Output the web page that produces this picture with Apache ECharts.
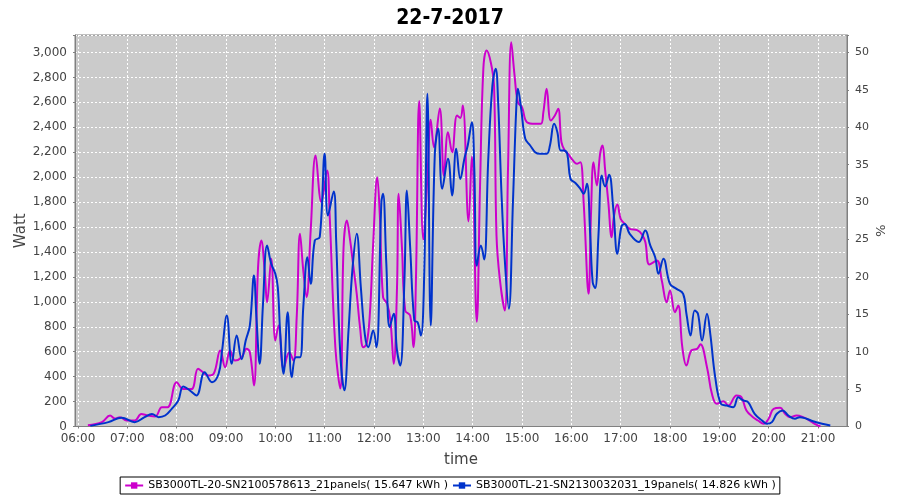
<!DOCTYPE html>
<html><head><meta charset="utf-8">
<script src="https://cdn.jsdelivr.net/npm/echarts@6/dist/echarts.min.js"></script>
<style>html,body{margin:0;padding:0;background:#fff}#c{width:900px;height:500px}</style>
</head><body><div id="c"></div>
<script>
const chartTitle = '22-7-2017';
const seriesNames = ['SB3000TL-20-SN2100578613_21panels( 15.647 kWh )', 'SB3000TL-21-SN2130032031_19panels( 14.826 kWh )'];
const hourTicks = ['06:00','07:00','08:00','09:00','10:00','11:00','12:00','13:00','14:00','15:00','16:00','17:00','18:00','19:00','20:00','21:00'];
const wattTicks = [0,200,400,600,800,1000,1200,1400,1600,1800,2000,2200,2400,2600,2800,3000];
const pctTicks = [0,5,10,15,20,25,30,35,40,45,50];

const pinkTimes = ['06:12','06:29','06:39','06:45','06:51','06:59','07:09','07:17','07:25','07:34','07:42','07:49','08:00','08:08','08:18','08:26','08:32','08:38','08:45','08:53','08:59','09:05','09:11','09:19','09:25','09:29','09:34','09:39','09:43','09:47','09:50','09:55','10:00','10:04','10:10','10:17','10:22','10:26','10:30','10:34','10:38','10:43','10:49','10:56','11:03','11:06','11:13','11:19','11:23','11:27','11:31','11:35','11:39','11:43','11:47','11:51','11:55','11:59','12:04','12:07','12:11','12:16','12:20','12:24','12:28','12:30','12:34','12:38','12:44','12:48','12:51','12:55','13:00','13:05','13:09','13:13','13:20','13:25','13:30','13:35','13:41','13:45','13:48','13:55','13:59','14:05','14:09','14:13','14:17','14:22','14:26','14:29','14:33','14:39','14:43','14:47','14:51','14:55','15:00','15:06','15:16','15:23','15:26','15:30','15:35','15:40','15:44','15:48','15:52','15:56','16:02','16:07','16:11','16:15','16:21','16:24','16:27','16:31','16:35','16:38','16:41','16:45','16:49','16:52','16:56','17:00','17:05','17:11','17:20','17:26','17:30','17:35','17:44','17:50','17:56','18:00','18:06','18:10','18:15','18:20','18:26','18:33','18:37','18:45','18:51','18:57','19:05','19:11','19:21','19:27','19:33','19:41','19:47','19:54','20:00','20:06','20:14','20:20','20:26','20:34','20:42','20:50','20:56','21:03'];
const pinkWatts = [10,35,88,64,75,48,48,100,88,80,155,155,355,300,300,463,435,409,423,610,476,610,529,556,623,596,329,1278,1492,1251,997,1345,690,810,463,596,529,877,1545,1251,1037,1572,2174,1799,2053,1708,636,305,1438,1652,1492,1278,1064,797,636,663,904,1465,2000,1706,1037,984,850,503,1117,1866,1438,930,890,636,1171,2610,1500,2000,2460,2240,2550,2013,2361,2200,2495,2475,2575,1645,2165,840,1933,2869,3016,2922,2735,1532,1185,930,2067,3082,2815,2601,2561,2441,2428,2428,2521,2708,2454,2495,2548,2280,2214,2187,2134,2107,2120,1799,1064,1719,2120,1933,2187,2254,2067,1799,1518,1692,1780,1666,1625,1585,1575,1540,1479,1300,1331,1171,997,1091,917,970,636,489,610,623,660,476,262,182,203,168,249,235,128,75,48,22,62,142,150,102,75,88,75,48,22,0];

const blueTimes = ['06:15','06:37','06:53','07:09','07:21','07:30','07:38','07:46','07:54','08:02','08:08','08:16','08:24','08:34','08:43','08:51','08:55','09:01','09:07','09:13','09:19','09:24','09:29','09:34','09:37','09:41','09:45','09:50','09:55','10:00','10:03','10:06','10:10','10:15','10:20','10:25','10:30','10:34','10:39','10:43','10:48','10:54','11:00','11:04','11:11','11:14','11:19','11:24','11:29','11:34','11:39','11:44','11:49','11:53','11:59','12:03','12:09','12:11','12:15','12:19','12:24','12:28','12:32','12:37','12:40','12:44','12:49','12:53','12:57','13:01','13:05','13:09','13:14','13:18','13:23','13:30','13:35','13:40','13:45','13:50','13:54','13:59','14:02','14:05','14:10','14:14','14:19','14:24','14:28','14:31','14:35','14:39','14:44','14:49','14:53','14:55','14:59','15:04','15:10','15:16','15:22','15:30','15:34','15:39','15:43','15:47','15:51','15:55','15:59','16:05','16:11','16:15','16:19','16:23','16:26','16:29','16:33','16:37','16:41','16:46','16:51','16:56','17:01','17:05','17:11','17:22','17:30','17:36','17:42','17:46','17:52','18:00','18:08','18:16','18:20','18:25','18:30','18:34','18:39','18:45','18:49','18:55','19:02','19:09','19:17','19:23','19:29','19:35','19:43','19:52','19:58','20:04','20:10','20:17','20:24','20:32','20:38','20:46','20:54','21:05','21:15'];
const blueWatts = [5,35,70,35,75,100,75,88,142,209,321,289,249,435,355,423,596,890,503,730,540,690,810,1211,877,503,984,1452,1305,1225,1117,743,423,917,396,556,556,957,1358,1144,1492,1518,2187,1692,1885,1492,583,290,770,1278,1545,1117,730,636,770,636,1799,1866,1305,797,904,610,489,1171,1893,1438,850,837,730,1198,2668,810,2187,2388,1906,2147,1853,2227,1986,2150,2254,2441,2067,1290,1452,1340,2147,2735,2869,2601,1879,1345,944,1799,2548,2708,2548,2308,2254,2200,2187,2187,2254,2428,2361,2214,2214,2187,1986,1953,1906,1866,1946,1532,1157,1110,1532,2013,1925,2020,1750,1385,1605,1625,1545,1479,1572,1452,1358,1225,1345,1144,1104,1064,904,730,930,904,690,904,743,396,182,168,155,235,209,195,102,48,22,35,102,128,88,62,75,62,42,22,8];

const toMin = s => { const p = s.split(':'); return (+p[0]) * 60 + (+p[1]); };
const fmtHM = v => { const h = Math.floor(v / 60), m = Math.round(v - h * 60); return String(h).padStart(2,'0') + ':' + String(m).padStart(2,'0'); };
const pair = (ts, vs) => ts.map((t, i) => [toMin(t), vs[i]]);

const FONT = 'DejaVu Sans';
const labelCol = '#444444';
const axisCol = '#808080';

const chart = echarts.init(document.getElementById('c'), null, {renderer: 'canvas'});
chart.setOption({
  animation: false,
  backgroundColor: '#ffffff',
  title: {text: chartTitle, left: 'center', top: 3,
    textStyle: {fontFamily: 'DejaVu Sans Condensed, DejaVu Sans', fontWeight: 'bold', fontSize: 21, color: '#000'}},
  legend: {
    data: seriesNames, left: 'center', top: 477, orient: 'horizontal',
    borderColor: '#000', borderWidth: 1, padding: [3, 4], itemGap: 4,
    itemWidth: 18, itemHeight: 8,
    textStyle: {fontFamily: FONT, fontSize: 11, color: '#000'}
  },
  grid: {left: 75, right: 53, top: 35, bottom: 73.5, show: true, backgroundColor: '#cbcbcb', borderColor: axisCol, borderWidth: 1, containLabel: false, outerBoundsMode: 'none'},
  xAxis: {
    type: 'value', min: toMin('05:56') + 0.35, max: toMin('21:35') + 0.3,
    name: 'time', nameLocation: 'middle', nameGap: 26, nameMoveOverlap: false,
    nameTextStyle: {fontFamily: FONT, fontSize: 15, color: labelCol},
    axisLine: {show: true, lineStyle: {color: axisCol}},
    axisTick: {show: true, length: 2, customValues: hourTicks.map(toMin), lineStyle: {color: axisCol}},
    axisLabel: {customValues: hourTicks.map(toMin), formatter: v => fmtHM(v), fontFamily: FONT, fontSize: 12, color: labelCol, margin: 6},
    splitLine: {show: true, lineStyle: {color: '#ffffff', type: [2, 2], width: 1}}
  },
  yAxis: [{
    type: 'value', min: 0, max: 3140, interval: 200, position: 'left',
    name: 'Watt', nameLocation: 'middle', nameGap: 46, nameRotate: 90, nameMoveOverlap: false,
    nameTextStyle: {fontFamily: FONT, fontSize: 15, color: labelCol},
    axisLine: {show: true, lineStyle: {color: axisCol}},
    axisTick: {show: true, length: 2, lineStyle: {color: axisCol}},
    axisLabel: {fontFamily: FONT, fontSize: 12, color: labelCol, margin: 8,
      formatter: v => (wattTicks.indexOf(v) >= 0 ? v.toLocaleString('en-US') : '')},
    splitLine: {show: true, lineStyle: {color: '#ffffff', type: [2, 2], width: 1}}
  }, {
    type: 'value', min: 0, max: 52.33, interval: 5, position: 'right',
    name: '%', nameLocation: 'middle', nameGap: 26, nameRotate: -90, nameMoveOverlap: false,
    nameTextStyle: {fontFamily: FONT, fontSize: 13, color: labelCol},
    axisLine: {show: true, lineStyle: {color: axisCol}},
    axisTick: {show: true, length: 2, lineStyle: {color: axisCol}},
    axisLabel: {fontFamily: FONT, fontSize: 11, color: labelCol, margin: 8,
      formatter: v => (pctTicks.indexOf(v) >= 0 ? String(v) : '')},
    splitLine: {show: false}
  }],
  series: [{
    name: seriesNames[0], type: 'line', data: pair(pinkTimes, pinkWatts), yAxisIndex: 0,
    smooth: 0.4, symbol: 'rect', symbolSize: 3, showSymbol: false,
    lineStyle: {color: '#cc00cc', width: 2}, itemStyle: {color: '#cc00cc'}, z: 2
  }, {
    name: seriesNames[1], type: 'line', data: pair(blueTimes, blueWatts), yAxisIndex: 0,
    smooth: 0.4, symbol: 'rect', symbolSize: 3, showSymbol: false,
    lineStyle: {color: '#0033cc', width: 2}, itemStyle: {color: '#0033cc'}, z: 3
  }]
});
</script></body></html>
